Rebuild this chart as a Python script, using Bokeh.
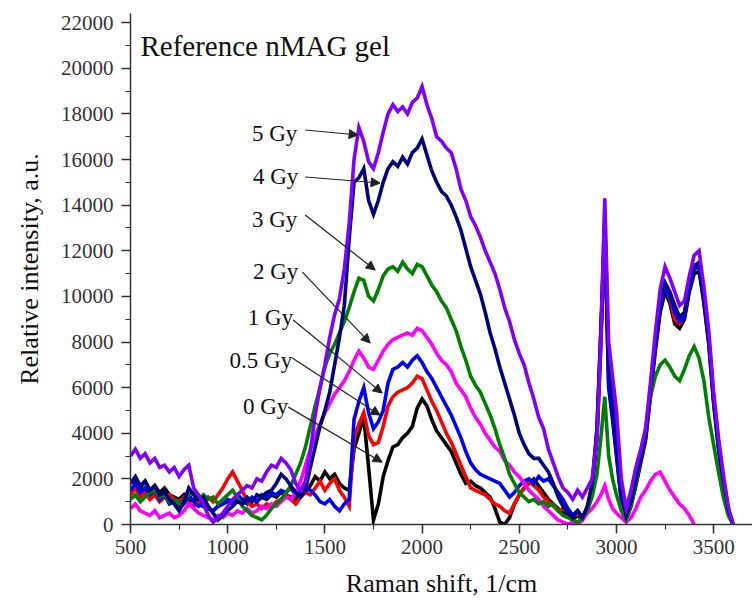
import numpy as np
from bokeh.plotting import figure
from bokeh.models import Range1d, Label, Arrow, NormalHead, SingleIntervalTicker, ColumnDataSource
from bokeh.core.properties import value
from bokeh.embed import file_html
from bokeh.resources import INLINE

# Raman shift grid (1/cm)
shift = list(range(500, 2876, 25)) + [2900, 2920, 2940, 2960, 2980] + list(range(3000, 3601, 25))

gy0 = [1800, 2000, 1600, 1900, 1500, 1700, 1400, 1600, 1300, 1200, 1100, 1300, 1000, 1100, 900, 800,
       700, 600, 800, 900, 1000, 900, 1100, 1000, 900, 1100, 1000, 1200, 1100, 1300, 1200, 1400,
       1300, 1200, 1100, 1300, 1400, 1700, 2100, 1900, 2300, 2000, 2200, 1800, 1600, 1500, 3300, 4000,
       4700, 2500, 200, 900, 2100, 2800, 3400, 3500, 3800, 4000, 4300, 5100, 5500, 5200, 4600, 4100,
       3800, 3500, 3200, 2700, 2200, 1800, 1900, 1700, 1600, 1400, 1200, 700, 100, 0, 300, 900,
       1300, 1600, 1800, 2000, 1700, 1400, 1100, 900, 700, 500, 400, 200, 400, 200, 600, 1500,
       3800, 8000, 12800, 6000, 4600,
       3000, 1000, 200, 800, 1700, 2700, 3700, 5600, 7600, 9300, 10200, 9700, 8800, 8600, 9000, 10200,
       11000, 11100, 9700, 7900, 5300, 3300, 1700, 500, 0]

gy05 = [1300, 1600, 1200, 1400, 1100, 1300, 1000, 1200, 1300, 1100, 1000, 1200, 900, 800, 1000, 900,
        1200, 1000, 1300, 1600, 2000, 2300, 1900, 1500, 1000, 800, 900, 700, 900, 800, 1000, 1100,
        1300, 1100, 900, 1200, 1400, 1300, 1600, 1900, 1500, 1800, 2000, 1500, 1200, 800, 3800, 4400,
        4900, 3900, 3500, 3600, 4300, 5200, 5600, 5800, 5900, 6000, 6200, 6500, 6400, 5900, 5400, 5000,
        4500, 4000, 3600, 3100, 2600, 2100, 1600, 1500, 1400, 1300, 1100, 900, 800, 600, 500, 900,
        1300, 1600, 1900, 1700, 1500, 1200, 1000, 800, 600, 700, 500, 300, 500, 300, 700, 1700,
        4200, 8600, 13800, 6800, 5000,
        3400, 1100, 300, 900, 1900, 2900, 3900, 5900, 7900, 9600, 10500, 9900, 9000, 8800, 9200, 10500,
        11400, 11400, 10000, 8100, 5500, 3500, 1900, 600, 0]

gy1 = [1500, 1800, 1400, 1600, 1300, 1500, 1100, 1300, 900, 1000, 700, 900, 1300, 1000, 800, 900,
       700, 600, 800, 900, 1100, 1000, 1300, 1100, 1000, 1200, 1000, 1300, 1200, 1400, 1300, 1500,
       1400, 1600, 1300, 1500, 1700, 1500, 1300, 1000, 900, 1100, 800, 600, 900, 1100, 4600, 5400,
       6000, 4900, 4200, 4500, 5000, 6200, 6800, 6900, 7100, 6900, 7200, 7400, 7100, 6700, 6400, 6000,
       5600, 5200, 4800, 4300, 3800, 3200, 2700, 2400, 2200, 2100, 2000, 1900, 1800, 1500, 1200, 1400,
       1700, 1900, 2000, 1800, 2100, 1900, 2000, 1700, 1400, 1100, 700, 400, 600, 300, 700, 1600,
       4000, 8200, 13200, 6200, 4800,
       3200, 1100, 300, 900, 1800, 2800, 3800, 5800, 7800, 9500, 10400, 10000, 9300, 8900, 9100, 10300,
       11200, 11300, 9800, 8000, 5400, 3400, 1800, 600, 0]

gy2 = [700, 900, 600, 500, 400, 600, 300, 400, 500, 300, 400, 600, 900, 700, 500, 400,
       300, 200, 400, 300, 500, 400, 600, 500, 700, 500, 600, 800, 700, 900, 800, 1000,
       1200, 1100, 1400, 1900, 2600, 3300, 3900, 4400, 4900, 5300, 5700, 6000, 6300, 6700, 7200, 7600,
       7300, 6900, 6800, 7200, 7600, 7900, 8100, 8200, 8300, 8400, 8300, 8600, 8500, 8200, 7900, 7500,
       7200, 7000, 6700, 6200, 5900, 5600, 5100, 4700, 4400, 4000, 3700, 3400, 3200, 2800, 2600, 2300,
       2100, 1800, 1500, 1300, 1100, 800, 600, 400, 200, 100, 0, 100, 0, 200, 500, 700,
       1000, 1300, 1700, 1100, 700,
       500, 300, 100, 300, 700, 1200, 1500, 1900, 2200, 2300, 1900, 1500, 1200, 900, 700, 400,
       0, None, None, None, None, None, None, None, None]

gy3 = [1100, 1300, 1000, 1200, 1400, 1500, 1200, 1300, 1000, 1100, 900, 1100, 1300, 1400, 1100, 1300,
       1100, 1200, 900, 1100, 1300, 1500, 1200, 800, 600, 400, 300, 200, 400, 700, 900, 1100,
       1400, 1700, 2200, 2700, 3400, 4300, 5200, 6000, 6900, 7500, 7900, 8400, 8900, 9500, 10200, 10800,
       10700, 10000, 9800, 10300, 10900, 11200, 11300, 11100, 11500, 11200, 11000, 11400, 11300, 10900, 10500, 10200,
       9800, 9500, 9000, 8500, 7800, 7200, 6500, 6100, 5800, 5300, 4800, 4200, 3500, 2900, 2200, 1800,
       1400, 1200, 1000, 1100, 900, 1000, 800, 900, 600, 400, 300, 200, 100, 300, 600, 1200,
       2200, 3800, 5600, 3000, 2000,
       1300, 600, 200, 900, 1800, 3000, 4200, 5600, 6500, 7000, 7200, 6900, 6500, 6300, 6800, 7400,
       7800, 7300, 6300, 4700, 3500, 2300, 1200, 400, 0]

gy4 = [1800, 2100, 1700, 1900, 1500, 1700, 1300, 1400, 1100, 900, 600, 1000, 1600, 1300, 1100, 1200,
       800, 500, 200, 400, 600, 800, 1000, 900, 1200, 1000, 1300, 1200, 1400, 1500, 1800, 2200,
       2000, 1700, 1400, 1200, 1500, 2500, 3400, 4300, 5000, 5800, 7000, 8200, 9600, 12500, 15000, 15200,
       15600, 14200, 13600, 14200, 15000, 15600, 15900, 15700, 16100, 15800, 16300, 16500, 16900, 16200, 15500, 15000,
       14600, 14400, 14000, 13500, 12900, 12100, 11300, 10700, 10100, 9300, 8400, 7700, 6900, 6200, 5500, 4800,
       4000, 3500, 3100, 2900, 2900, 2600, 2300, 1800, 1200, 800, 500, 300, 600, 300, 800, 1800,
       4200, 8500, 13000, 7000, 5600,
       3800, 1500, 400, 1000, 2000, 3000, 4000, 6000, 8000, 9800, 10600, 10200, 9600, 9100, 9300, 10500,
       11300, 11500, 10000, 8200, 5600, 3600, 2000, 700, 0]

gy5 = [3000, 3300, 2900, 3100, 2700, 2900, 2500, 2600, 2300, 2500, 2100, 2400, 2600, 1600, 1300, 900,
       400, 100, 300, 500, 800, 1100, 1300, 1500, 1700, 1600, 2000, 1900, 2300, 2600, 2500, 2900,
       2700, 2400, 1800, 1500, 1900, 3200, 4800, 6000, 7000, 8200, 9200, 9900, 11200, 13200, 16000, 17400,
       16800, 15900, 15600, 16300, 17200, 18000, 18400, 18100, 18300, 18000, 18500, 18700, 19200, 18400, 17800, 17000,
       16800, 16500, 16300, 15600, 14700, 14200, 13500, 13100, 12600, 12000, 11500, 11000, 10300, 9500, 8900, 8100,
       7500, 7000, 6200, 5500, 4700, 4200, 3300, 2700, 2100, 1600, 1400, 1100, 1500, 1200, 1600, 2000,
       3800, 8000, 14300, 8000, 6500,
       5000, 2000, 700, 1500, 2500, 3300, 4200, 6200, 8400, 10300, 11300, 10800, 10200, 9600, 9800, 10900,
       11800, 12000, 10400, 8500, 5800, 3800, 2200, 800, 0]

series_names = ["0 Gy", "0.5 Gy", "1 Gy", "2 Gy", "3 Gy", "4 Gy", "5 Gy"]
series_data = [gy0, gy05, gy1, gy2, gy3, gy4, gy5]
series_colors = ["#000000", "#ff0000", "#0000ff", "#ff00ff", "#008000", "#000080", "#8000ff"]

# label annotations (text anchor, arrow start, arrow end), in data units
label_x = [1312, 1332, 1337, 1363, 1358, 1363, 1358]
label_y = [5160, 7210, 9080, 11080, 13350, 15250, 17150]
arrow_x0 = [1312, 1332, 1337, 1384, 1399, 1399, 1399]
arrow_y0 = [5145, 7294, 8961, 11066, 13566, 15232, 17294]
arrow_x1 = [1795, 1784, 1795, 1733, 1759, 1784, 1671]
arrow_y1 = [2732, 4794, 5759, 7952, 11154, 14969, 17075]

SERIF = "Liberation Serif"

p = figure(width=752, height=600, output_backend="svg", toolbar_location=None,
           x_range=Range1d(500, 3700), y_range=Range1d(0, 22400),
           min_border_left=130, min_border_right=0, min_border_top=13, min_border_bottom=76)
p.outline_line_color = None
p.xgrid.grid_line_color = None
p.ygrid.grid_line_color = None

for vals, col in zip(series_data, series_colors):
    arr = np.array([np.nan if v is None else v for v in vals], dtype=float)
    p.line(np.array(shift, dtype=float), arr, line_color=col, line_width=3.6, line_join="miter")

p.xaxis.ticker = SingleIntervalTicker(interval=500, num_minor_ticks=2)
p.yaxis.ticker = SingleIntervalTicker(interval=2000, num_minor_ticks=2)
for ax in (p.xaxis, p.yaxis):
    ax.axis_line_color = "#333333"
    ax.axis_line_width = 1.5
    ax.major_tick_line_color = "#333333"
    ax.minor_tick_line_color = "#333333"
    ax.major_tick_line_width = 1.5
    ax.minor_tick_line_width = 1.2
    ax.major_tick_in = 0
    ax.major_tick_out = 9
    ax.minor_tick_in = 0
    ax.minor_tick_out = 5
    ax.major_label_text_font = SERIF
    ax.major_label_text_font_size = "21px"
    ax.major_label_text_color = "#333333"
    ax.axis_label_text_font = SERIF
    ax.axis_label_text_font_size = "26px"
    ax.axis_label_text_font_style = "normal"
    ax.axis_label_text_color = "#111111"
p.xaxis.axis_label = "Raman shift, 1/cm"
p.yaxis.axis_label = "Relative intensity, a.u."
p.xaxis.major_label_standoff = 6
p.yaxis.major_label_standoff = 8
p.xaxis.axis_label_standoff = 12
p.yaxis.axis_label_standoff = 14

src = ColumnDataSource(dict(x=label_x, y=label_y, t=series_names))
p.text(x="x", y="y", text="t", source=src, text_align="right", text_baseline="alphabetic",
       text_font=value(SERIF), text_font_size="23px", text_color="#111111")

for x0, y0, x1, y1 in zip(arrow_x0, arrow_y0, arrow_x1, arrow_y1):
    p.add_layout(Arrow(x_start=x0, y_start=y0, x_end=x1, y_end=y1, line_color="#222222", line_width=1.2,
                       end=NormalHead(size=9, fill_color="#222222", line_color="#222222")))

p.add_layout(Label(x=551, y=20980, text="Reference nMAG gel", text_font=SERIF, text_font_size="29px",
                   text_baseline="alphabetic", text_color="#111111"))

open("out.html", "w").write(file_html(p, INLINE))
